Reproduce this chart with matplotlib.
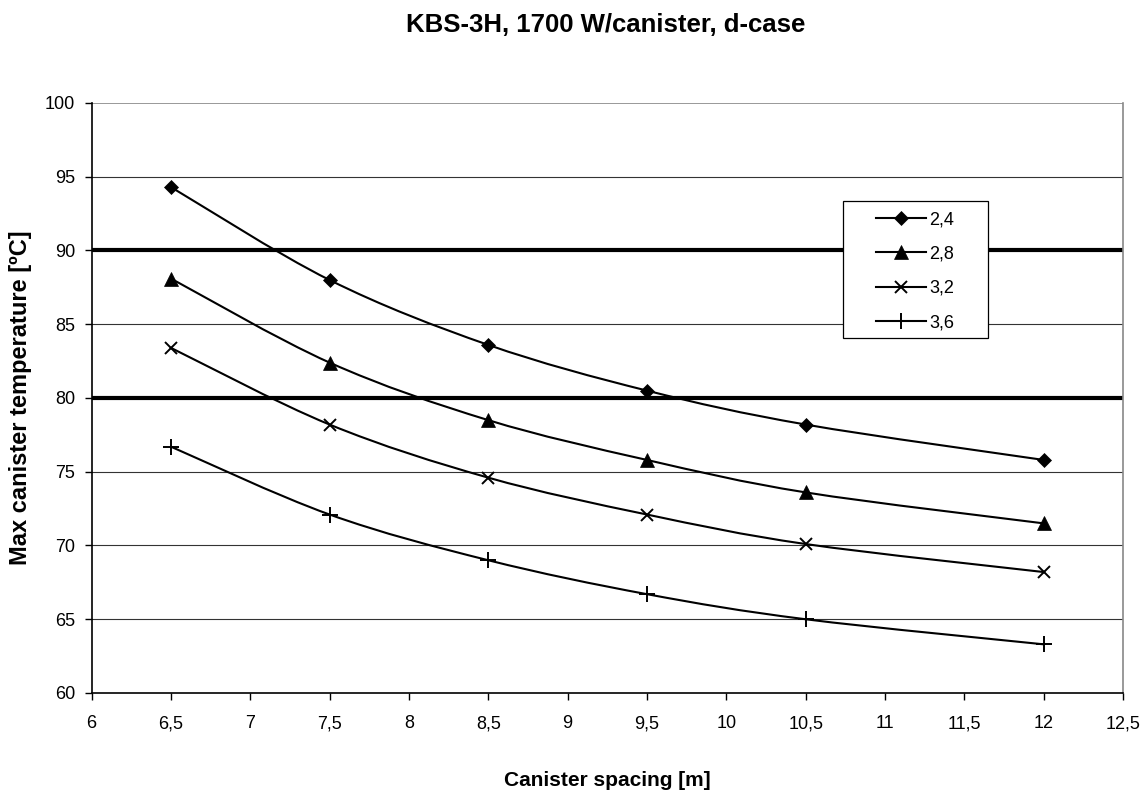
#!/usr/bin/env python

import numpy as np
import matplotlib

matplotlib.use("Agg")
import matplotlib.pyplot as plt
from matplotlib.path import Path
from matplotlib.patches import PathPatch, Rectangle
from matplotlib.lines import Line2D

plt.rcParams["font.family"] = ["Liberation Sans", "DejaVu Sans"]

# Data
spacing = [6.5, 7.5, 8.5, 9.5, 10.5, 12.0]
temp_24 = [94.3, 88.0, 83.6, 80.5, 78.2, 75.8]
temp_28 = [88.1, 82.4, 78.5, 75.8, 73.6, 71.5]
temp_32 = [83.4, 78.2, 74.6, 72.1, 70.1, 68.2]
temp_36 = [76.7, 72.1, 69.0, 66.7, 65.0, 63.3]
series_labels = ["2,4", "2,8", "3,2", "3,6"]
limit_lines = [90, 80]

x_ticks = [6, 6.5, 7, 7.5, 8, 8.5, 9, 9.5, 10, 10.5, 11, 11.5, 12, 12.5]
y_ticks = [60, 65, 70, 75, 80, 85, 90, 95, 100]


def smooth_path(xs, ys):
    """Excel-like smoothed line: cubic Bezier segments through the points."""
    pts = np.column_stack([xs, ys]).astype(float)
    n = len(pts)
    verts = [pts[0]]
    codes = [Path.MOVETO]
    for i in range(n - 1):
        p0 = pts[i - 1] if i > 0 else pts[i]
        p1 = pts[i]
        p2 = pts[i + 1]
        p3 = pts[i + 2] if i + 2 < n else pts[i + 1]
        c1 = p1 + (p2 - p0) / 6.0
        c2 = p2 - (p3 - p1) / 6.0
        verts += [c1, c2, p2]
        codes += [Path.CURVE4] * 3
    return Path(verts, codes)


def fmt(v):
    s = f"{v:g}"
    return s.replace(".", ",")


def main() -> int:
    fig = plt.figure(figsize=(11.43, 7.91), dpi=100)
    ax = fig.add_axes([0.0801, 0.1239, 0.9024, 0.7459])

    ax.set_xlim(6, 12.5)
    ax.set_ylim(60, 100)

    # gridlines
    for yv in y_ticks[1:-1]:
        ax.axhline(yv, color="#333333", lw=0.8, zorder=1)
    ax.axhline(100, color="#888888", lw=1.2, zorder=1)

    # limit lines
    for yv in limit_lines:
        ax.axhline(yv, color="black", lw=3.0, zorder=2)

    markers = [
        dict(marker="D", ms=7.5, mfc="black", mec="black", mew=0.5),
        dict(marker="^", ms=9.5, mfc="black", mec="black", mew=0.5),
        dict(marker="x", ms=9, mfc="none", mec="black", mew=1.4),
        dict(marker="+", ms=11, mfc="none", mec="black", mew=1.4),
    ]
    all_series = [temp_24, temp_28, temp_32, temp_36]
    handles = []
    for ys, mk, lab in zip(all_series, markers, series_labels):
        patch = PathPatch(smooth_path(spacing, ys), fill=False, edgecolor="black",
                          lw=1.5, zorder=3)
        ax.add_patch(patch)
        ax.plot(spacing, ys, linestyle="none", zorder=4, **mk)
        handles.append(Line2D([0], [0], color="black", lw=1.5, **mk))

    # legend box drawn separately (Excel pads it generously on the sides)
    frame = Rectangle((0.7285, 0.6017), 0.1406, 0.2323, transform=ax.transAxes,
                      facecolor="white", edgecolor="black", lw=0.9, zorder=5)
    ax.add_patch(frame)
    leg = ax.legend(handles, series_labels, loc="upper left",
                    bbox_to_anchor=(0.7605, 0.816), borderaxespad=0,
                    fontsize=13, frameon=False,
                    handlelength=2.75, handletextpad=0.2, labelspacing=0.95,
                    borderpad=0)
    leg.set_zorder(6)

    ax.set_xticks(x_ticks)
    ax.set_xticklabels([fmt(v) for v in x_ticks])
    ax.set_yticks(y_ticks)
    ax.set_yticklabels([fmt(v) for v in y_ticks])
    ax.tick_params(axis="both", direction="out", length=5, width=1,
                   color="black", labelsize=13)
    ax.tick_params(axis="x", pad=11)
    ax.tick_params(axis="y", pad=7)

    for side in ["left", "bottom"]:
        ax.spines[side].set_color("black")
        ax.spines[side].set_linewidth(1.2)
    ax.spines["top"].set_visible(False)
    ax.spines["right"].set_color("#888888")
    ax.spines["right"].set_linewidth(1.2)

    ax.set_xlabel("Canister spacing [m]", fontsize=15, fontweight="bold",
                  labelpad=28)
    ax.set_ylabel("Max canister temperature [ºC]", fontsize=17,
                  fontweight="bold", labelpad=9)
    fig.text(0.53, 0.969, "KBS-3H, 1700 W/canister, d-case", ha="center",
             va="center", fontsize=18.5, fontweight="bold")

    fig.savefig("out.png", dpi=100)
    return 0


if __name__ == "__main__":
    main()
